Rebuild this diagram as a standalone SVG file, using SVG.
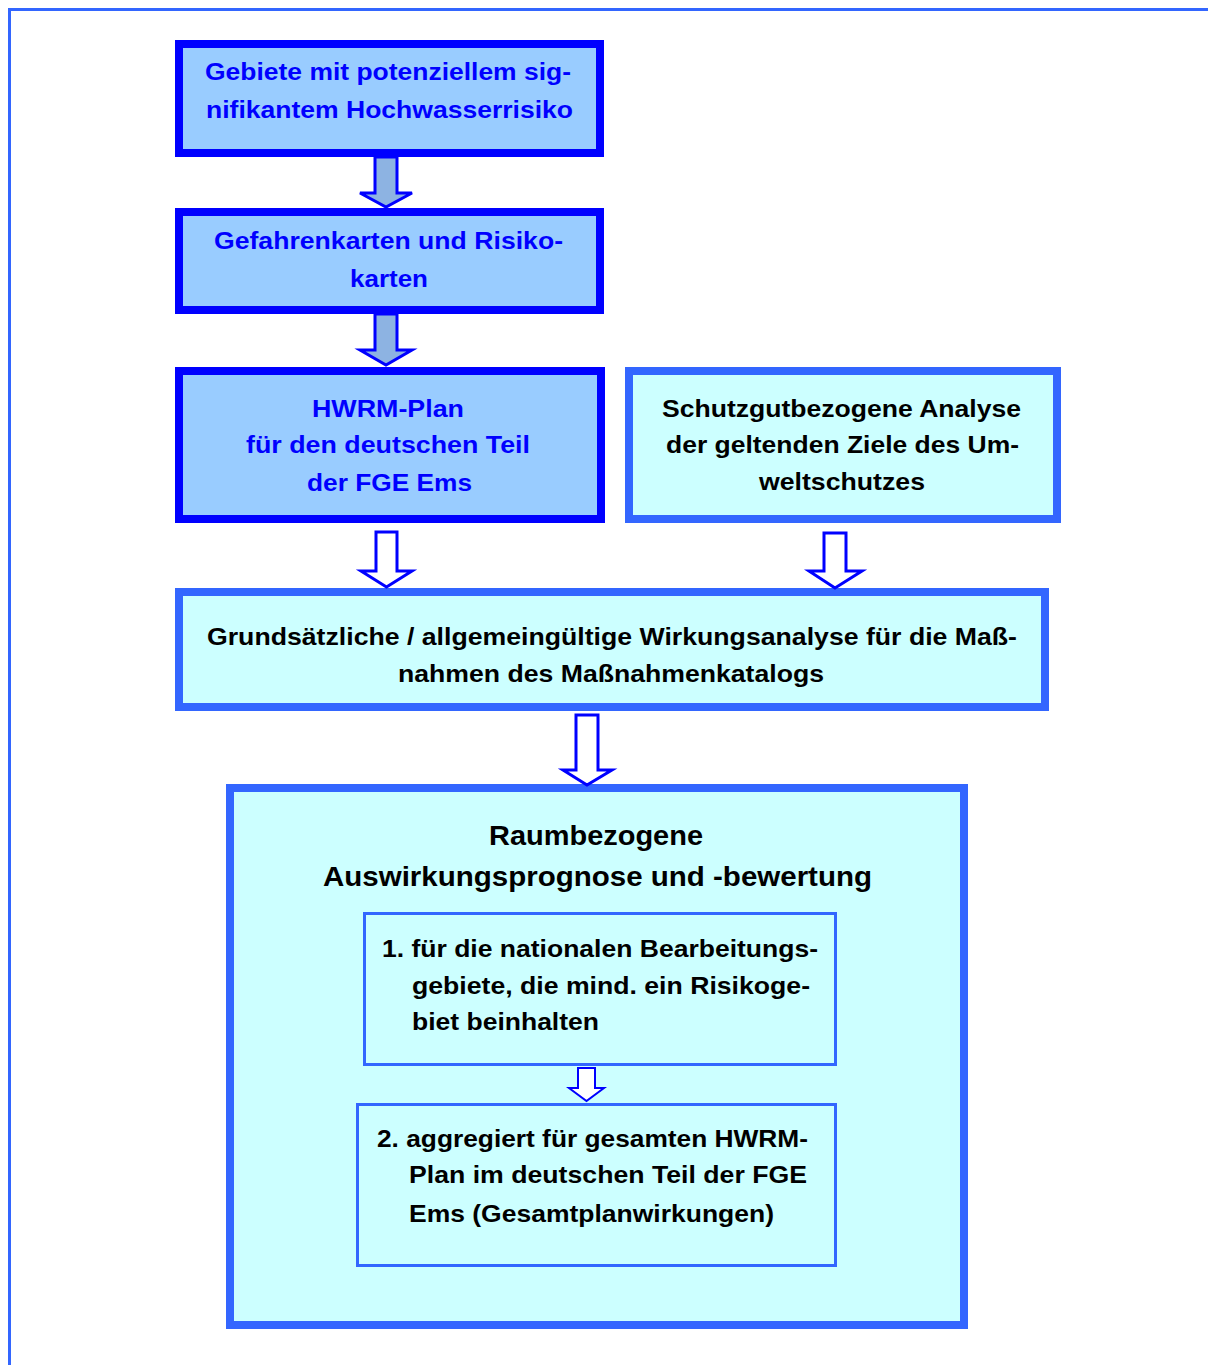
<svg xmlns="http://www.w3.org/2000/svg" width="1208" height="1365" viewBox="0 0 1208 1365">
<style>
.t{font-family:"Liberation Sans",Arial,sans-serif;font-weight:bold;font-size:24px;}
.big{font-size:28px;}
.blue{fill:#0000ff;}
.blk{fill:#000000;}
.dark{fill:#99ccff;stroke:#0000ff;stroke-width:8;}
.light{fill:#ccffff;stroke:#3366ff;stroke-width:8;}
.inner{fill:#ccffff;stroke:#3366ff;stroke-width:3;}
.af{fill:#8db3e2;stroke:#0000ff;stroke-width:3;stroke-linejoin:miter;}
.ah{fill:#ffffff;stroke:#0000ff;stroke-width:3;stroke-linejoin:miter;}
</style>
<rect width="1208" height="1365" fill="#ffffff"/>
<g id="frame" fill="none" stroke="#3366ff" stroke-width="3">
<path d="M1208,9.5 H9.5 V1365"/>
</g>
<g id="node1">
<rect class="dark" x="179" y="44" width="421" height="109"/>
<text class="t blue" x="205" y="80" textLength="366" lengthAdjust="spacingAndGlyphs">Gebiete mit potenziellem sig-</text>
<text class="t blue" x="206" y="118" textLength="367" lengthAdjust="spacingAndGlyphs">nifikantem Hochwasserrisiko</text>
</g>
<g id="node2">
<rect class="dark" x="179" y="212" width="421" height="98"/>
<text class="t blue" x="214" y="249" textLength="349" lengthAdjust="spacingAndGlyphs">Gefahrenkarten und Risiko-</text>
<text class="t blue" x="350" y="287" textLength="78" lengthAdjust="spacingAndGlyphs">karten</text>
</g>
<g id="node3">
<rect class="dark" x="179" y="371" width="422" height="148"/>
<text class="t blue" x="312" y="417" textLength="152" lengthAdjust="spacingAndGlyphs">HWRM-Plan</text>
<text class="t blue" x="246" y="453" textLength="284" lengthAdjust="spacingAndGlyphs">für den deutschen Teil</text>
<text class="t blue" x="307" y="491" textLength="165" lengthAdjust="spacingAndGlyphs">der FGE Ems</text>
</g>
<g id="node4">
<rect class="light" x="629" y="371" width="428" height="148"/>
<text class="t blk" x="662" y="417" textLength="359" lengthAdjust="spacingAndGlyphs">Schutzgutbezogene Analyse</text>
<text class="t blk" x="666" y="453" textLength="353" lengthAdjust="spacingAndGlyphs">der geltenden Ziele des Um-</text>
<text class="t blk" x="759" y="490" textLength="166" lengthAdjust="spacingAndGlyphs">weltschutzes</text>
</g>
<g id="node5">
<rect class="light" x="179" y="592" width="866" height="115"/>
<text class="t blk" x="207" y="645" textLength="810" lengthAdjust="spacingAndGlyphs">Grundsätzliche / allgemeingültige Wirkungsanalyse für die Maß-</text>
<text class="t blk" x="398" y="682" textLength="426" lengthAdjust="spacingAndGlyphs">nahmen des Maßnahmenkatalogs</text>
</g>
<g id="node6">
<rect class="light" x="230" y="788" width="734" height="537"/>
<text class="t big blk" x="489" y="845" textLength="214" lengthAdjust="spacingAndGlyphs">Raumbezogene</text>
<text class="t big blk" x="323" y="886" textLength="549" lengthAdjust="spacingAndGlyphs">Auswirkungsprognose und -bewertung</text>
</g>
<g id="node6a">
<rect class="inner" x="364.5" y="913.5" width="471" height="151"/>
<text class="t blk" x="382" y="957" textLength="436" lengthAdjust="spacingAndGlyphs">1. für die nationalen Bearbeitungs-</text>
<text class="t blk" x="412" y="994" textLength="398" lengthAdjust="spacingAndGlyphs">gebiete, die mind. ein Risikoge-</text>
<text class="t blk" x="412" y="1030" textLength="187" lengthAdjust="spacingAndGlyphs">biet beinhalten</text>
</g>
<g id="node6b">
<rect class="inner" x="357.5" y="1104.5" width="478" height="161"/>
<text class="t blk" x="377" y="1147" textLength="431" lengthAdjust="spacingAndGlyphs">2. aggregiert für gesamten HWRM-</text>
<text class="t blk" x="409" y="1183" textLength="398" lengthAdjust="spacingAndGlyphs">Plan im deutschen Teil der FGE</text>
<text class="t blk" x="409" y="1222" textLength="365" lengthAdjust="spacingAndGlyphs">Ems (Gesamtplanwirkungen)</text>
</g>
<g id="connectors">
<polygon class="af" points="375,157 397,157 397,193 412,193 386,207 360,193 375,193"/>
<polygon class="af" points="375,314 397,314 397,350 412,350 386,365 360,350 375,350"/>
<polygon class="ah" points="376,532 397,532 397,571 412,571 386.5,587 361,571 376,571"/>
<polygon class="ah" points="824,533 846,533 846,571 862,571 835,588 809,571 824,571"/>
<polygon class="ah" points="576,715 598,715 598,770 612,770 587,785 563,770 576,770"/>
<polygon class="ah" style="stroke-width:2" points="578,1068 595,1068 595,1088 604,1088 586.5,1101 569,1088 578,1088"/>
</g>
</svg>
